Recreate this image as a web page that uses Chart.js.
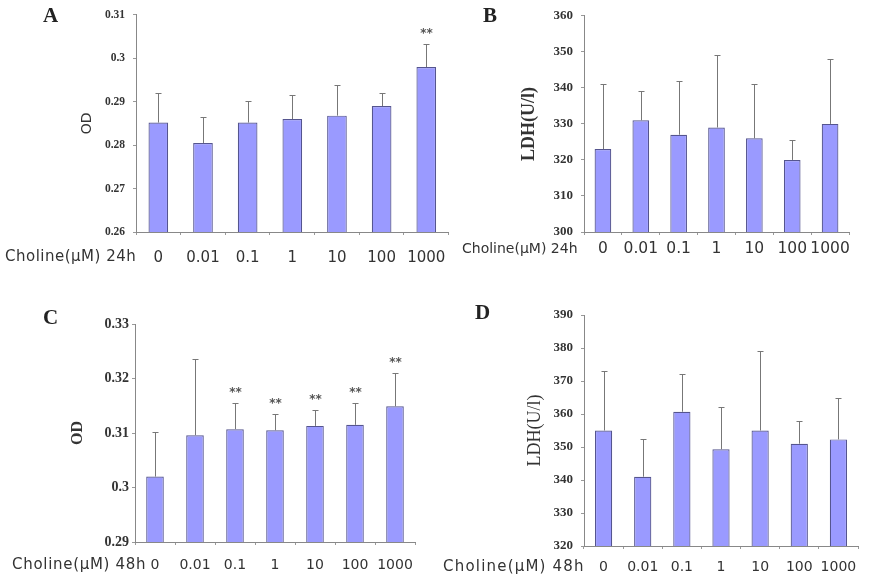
<!DOCTYPE html>
<html lang="en">
<head>
<meta charset="UTF-8">
<title>Choline OD / LDH</title>
<script src="https://cdn.jsdelivr.net/npm/chart.js@4.4.3/dist/chart.umd.min.js"></script>
<style>
    body { margin: 0; background: #fff; }
    #wrap { position: relative; width: 869px; height: 581px; overflow: hidden; background: #fff; }
    canvas { position: absolute; }
    .letter { position: absolute; font: bold 21px "Liberation Serif", serif; color: #222; line-height: 1; }
    .xname { position: absolute; font-family: "DejaVu Sans", sans-serif; color: #333; white-space: nowrap; line-height: 1; }
</style>
</head>
<body>
<div id="wrap">
    <canvas id="cA"></canvas>
    <canvas id="cB"></canvas>
    <canvas id="cC"></canvas>
    <canvas id="cD"></canvas>
    <div class="letter" style="left:43px;top:5px">A</div>
    <div class="letter" style="left:483px;top:5px">B</div>
    <div class="letter" style="left:43px;top:307px">C</div>
    <div class="letter" style="left:475px;top:302px">D</div>
    <div class="xname" style="left:5px;top:249px;font-size:15px;letter-spacing:0.5px">Choline(μM) 24h</div>
    <div class="xname" style="left:462px;top:241px;font-size:14px">Choline(μM) 24h</div>
    <div class="xname" style="left:12px;top:557px;font-size:15px;letter-spacing:0.7px">Choline(μM) 48h</div>
    <div class="xname" style="left:443px;top:559px;font-size:15px;letter-spacing:1.2px">Choline(μM) 48h</div>
</div>
<script>
// choline doses (µM)
const doses = ['0', '0.01', '0.1', '1', '10', '100', '1000'];

// A: OD, 24h
const odA = [0.2852, 0.2805, 0.2852, 0.2860, 0.2868, 0.2890, 0.2980];
const odAErr = [0.0069, 0.0061, 0.0049, 0.0055, 0.0071, 0.0031, 0.0054];
const odAStars = ['', '', '', '', '', '', '**'];

// B: LDH, 24h
const ldhB = [323, 331, 327, 329, 326, 320, 330];
const ldhBErr = [18, 8, 15, 20, 15, 5.4, 18];

// C: OD, 48h
const odC = [0.3020, 0.3096, 0.3107, 0.3105, 0.3113, 0.3115, 0.3149];
const odCErr = [0.0081, 0.0140, 0.0048, 0.0030, 0.0030, 0.0040, 0.0062];
const odCStars = ['', '', '**', '**', '**', '**', '**'];

// D: LDH, 48h
const ldhD = [355, 341, 360.7, 349.3, 355, 351, 352.3];
const ldhDErr = [18, 11.4, 11.3, 12.7, 24, 7, 12.5];

// one-sided (upper) error bars + significance stars
const errorBars = {
    id: 'errorBars',
    afterDatasetsDraw(chart, args, opts) {
        const ctx = chart.ctx;
        const y = chart.scales.y;
        const vals = chart.data.datasets[0].data;
        ctx.save();
        ctx.strokeStyle = '#777';
        ctx.lineWidth = 1;
        ctx.fillStyle = '#555';
        ctx.font = 'bold 12px "DejaVu Sans", sans-serif';
        ctx.textAlign = 'center';
        ctx.textBaseline = 'middle';
        chart.getDatasetMeta(0).data.forEach((bar, i) => {
            const top = Math.round(y.getPixelForValue(vals[i] + opts.err[i])) + 0.5;
            const x = Math.round(bar.x) + 0.5;
            ctx.beginPath();
            ctx.moveTo(x, bar.y);
            ctx.lineTo(x, top);
            ctx.moveTo(x - 3, top);
            ctx.lineTo(x + 3, top);
            ctx.stroke();
            if (opts.stars && opts.stars[i]) {
                ctx.fillText(opts.stars[i], x, top - 11);
            }
        });
        ctx.restore();
    }
};

// box: canvas on the page, area: wanted plot area on the page
function makePanel(id, box, area, p) {
    const cv = document.getElementById(id);
    cv.style.left = box.l + 'px';
    cv.style.top = box.t + 'px';
    cv.style.width = box.w + 'px';
    cv.style.height = box.h + 'px';
    cv.width = box.w;
    cv.height = box.h;
    const xH = 34;
    return new Chart(cv, {
        type: 'bar',
        data: {
            labels: doses,
            datasets: [{
                data: p.values,
                backgroundColor: '#9a9aff',
                borderColor: '#55558f',
                borderWidth: 1.2,
                barPercentage: 0.44,
                categoryPercentage: 1
            }]
        },
        options: {
            responsive: false,
            animation: false,
            devicePixelRatio: 1,
            layout: {
                padding: {
                    left: p.titleLeft - box.l,
                    top: area.t - box.t,
                    right: box.l + box.w - area.r,
                    bottom: box.t + box.h - area.b - xH
                }
            },
            plugins: {
                legend: { display: false },
                tooltip: { enabled: false },
                errorBars: { err: p.err, stars: p.stars }
            },
            scales: {
                x: {
                    afterFit: s => { s.height = xH; },
                    grid: { display: true, drawOnChartArea: false, tickLength: 3, color: '#999' },
                    border: { color: '#888', width: 1 },
                    ticks: {
                        color: '#333',
                        padding: p.xPad,
                        maxRotation: 0,
                        autoSkip: false,
                        font: { family: '"DejaVu Sans", sans-serif', size: p.xSize }
                    }
                },
                y: {
                    min: p.min,
                    max: p.max,
                    afterFit: s => { s.width = area.l - p.titleLeft; },
                    grid: { display: true, drawOnChartArea: false, tickLength: 3, color: '#999' },
                    border: { color: '#888', width: 1 },
                    ticks: {
                        stepSize: p.step,
                        color: '#333',
                        padding: p.yPad,
                        // 0.3 rather than 0.30
                        callback: v => String(Number(v.toFixed(4))),
                        font: { family: '"Liberation Serif", serif', size: p.ySize, weight: 'bold' }
                    },
                    title: {
                        display: true,
                        text: p.title,
                        color: '#333',
                        padding: 0,
                        font: p.titleFont
                    }
                }
            }
        },
        plugins: [errorBars]
    });
}

makePanel('cA', { l: 0, t: 0, w: 460, h: 290 }, { l: 136, r: 451, t: 12, b: 232 }, {
    values: odA, err: odAErr, stars: odAStars, min: 0.26, max: 0.31, step: 0.01,
    title: 'OD', titleLeft: 79, titleFont: { family: '"DejaVu Sans", sans-serif', size: 14 },
    ySize: 11.5, yPad: 8, xSize: 15, xPad: 14
});
makePanel('cB', { l: 440, t: 0, w: 429, h: 290 }, { l: 584, r: 849, t: 15, b: 232 }, {
    values: ldhB, err: ldhBErr, min: 300, max: 360, step: 10,
    title: 'LDH(U/l)', titleLeft: 519, titleFont: { family: '"Liberation Serif", serif', size: 18, weight: 'bold' },
    ySize: 13, yPad: 8, xSize: 15.5, xPad: 5
});
makePanel('cC', { l: 0, t: 290, w: 440, h: 291 }, { l: 135, r: 415, t: 324, b: 542 }, {
    values: odC, err: odCErr, stars: odCStars, min: 0.29, max: 0.33, step: 0.01,
    title: 'OD', titleLeft: 68, titleFont: { family: '"Liberation Serif", serif', size: 16, weight: 'bold' },
    ySize: 14, yPad: 3, xSize: 14, xPad: 12
});
makePanel('cD', { l: 440, t: 290, w: 429, h: 291 }, { l: 584, r: 858, t: 315, b: 546 }, {
    values: ldhD, err: ldhDErr, min: 320, max: 390, step: 10,
    title: 'LDH(U/l)', titleLeft: 524, titleFont: { family: '"Liberation Serif", serif', size: 18 },
    ySize: 13, yPad: 8, xSize: 14, xPad: 10
});
</script>
</body>
</html>
